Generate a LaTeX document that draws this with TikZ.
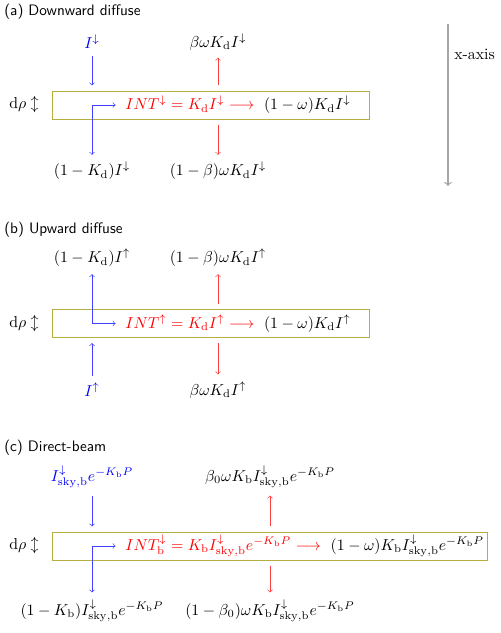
\documentclass[tikz,border=0pt]{standalone}
\usepackage{amsmath}
\usepackage{tikz}
\usetikzlibrary{calc}

\tikzset{
	lbl/.style={inner sep=0pt},
	heading/.style={anchor=west, inner sep=0pt, font=\sffamily\fontsize{9.6}{11}\selectfont},
	layer/.style={draw=olive!65, inner sep=0pt, outer sep=0pt, minimum height=17.7pt},
	rowtext/.style={anchor=west, inner sep=0pt},
	inflow/.style={->, blue!75, shorten <=4.5pt, shorten >=3.5pt},
	outflow/.style={->, red!75, shorten <=3.5pt, shorten >=4.5pt},
	turnflow/.style={<->, blue!75, shorten <=4.5pt, shorten >=6pt},
	axisline/.style={->, gray!70, line width=0.8pt},
}

\begin{document}
\begin{tikzpicture}[x=0.632pt, y=-0.632pt]
		%%%%% START %%%%%
		\useasboundingbox (0,0) rectangle (500,633);
		
		\node[heading] (titleA) at (4,12) {(a) Downward diffuse};
		\node[lbl, blue] (inA) at (92,42) {$I^{\downarrow}$};
		\node[lbl] (upA) at (218,42) {$\beta\omega K_\mathrm{d}I^{\downarrow}$};
		\node[layer, minimum width=200.3pt] (boxA) at (210.5,105) {};
		\node[lbl] (drhoA) at (24,105) {$\mathrm{d}\rho \updownarrow$};
		\node[rowtext] (intA) at (125,105) {$\color{red}INT^{\downarrow} = K_\mathrm{d}I^{\downarrow} \longrightarrow \color{black}\ (1-\omega)K_\mathrm{d}I^{\downarrow}$};
		\node[lbl] (kA) at (92,171) {$(1-K_\mathrm{d})I^{\downarrow}$};
		\node[lbl] (dnA) at (218,171) {$(1-\beta)\omega K_\mathrm{d}I^{\downarrow}$};
		\draw[inflow] (inA) -- (inA |- boxA.north);
		\draw[outflow] (upA |- boxA.north) -- (upA);
		\draw[outflow] (dnA |- boxA.south) -- (dnA);
		\draw[turnflow] (kA) |- (intA.west);
		
		\coordinate (axtop) at (448,24);
		\coordinate (axbot) at (448,186);
		\draw[axisline] (axtop) -- (axbot);
		\node[lbl, anchor=west] (axlabel) at (454,54) {x-axis};
		
		\node[heading] (titleB) at (4,230) {(b) Upward diffuse};
		\node[lbl] (kB) at (92,258) {$(1-K_\mathrm{d})I^{\uparrow}$};
		\node[lbl] (upB) at (218,258) {$(1-\beta)\omega K_\mathrm{d}I^{\uparrow}$};
		\node[layer, minimum width=200.3pt] (boxB) at (210.5,323.5) {};
		\node[lbl] (drhoB) at (24,323.5) {$\mathrm{d}\rho \updownarrow$};
		\node[rowtext] (intB) at (125,323.5) {$\color{red}INT^{\uparrow} = K_\mathrm{d}I^{\uparrow} \longrightarrow \color{black}\ (1-\omega)K_\mathrm{d}I^{\uparrow}$};
		\node[lbl, blue] (inB) at (92,390) {$I^{\uparrow}$};
		\node[lbl] (dnB) at (218,390) {$\beta\omega K_\mathrm{d}I^{\uparrow}$};
		\draw[inflow] (inB) -- (inB |- boxB.south);
		\draw[outflow] (upB |- boxB.north) -- (upB);
		\draw[outflow] (dnB |- boxB.south) -- (dnB);
		\draw[turnflow] (kB) |- (intB.west);
		
		\node[heading] (titleC) at (4,448) {(c) Direct-beam};
		\node[lbl, blue] (inC) at (92,477) {$I^{\downarrow}_{\mathrm{sky,b}}e^{-K_\mathrm{b}P}$};
		\node[lbl] (upC) at (270,477) {$\beta_0\omega K_\mathrm{b}I^{\downarrow}_{\mathrm{sky,b}}e^{-K_\mathrm{b}P}$};
		\node[layer, minimum width=275pt] (boxC) at (269.5,546) {};
		\node[lbl] (drhoC) at (24,546) {$\mathrm{d}\rho \updownarrow$};
		\node[rowtext] (intC) at (125,546) {$\color{red}INT^{\downarrow}_{\mathrm{b}} = K_\mathrm{b}I^{\downarrow}_{\mathrm{sky,b}}e^{-K_\mathrm{b}P} \longrightarrow \color{black}\ (1-\omega)K_\mathrm{b}I^{\downarrow}_{\mathrm{sky,b}}e^{-K_\mathrm{b}P}$};
		\node[lbl] (kC) at (92,611) {$(1-K_\mathrm{b})I^{\downarrow}_{\mathrm{sky,b}}e^{-K_\mathrm{b}P}$};
		\node[lbl] (dnC) at (270,611) {$(1-\beta_0)\omega K_\mathrm{b}I^{\downarrow}_{\mathrm{sky,b}}e^{-K_\mathrm{b}P}$};
		\draw[inflow] (inC) -- (inC |- boxC.north);
		\draw[outflow] (upC |- boxC.north) -- (upC);
		\draw[outflow] (dnC |- boxC.south) -- (dnC);
		\draw[turnflow] (kC) |- (intC.west);
		%%%%% END %%%%%
	\end{tikzpicture}
\end{document}
